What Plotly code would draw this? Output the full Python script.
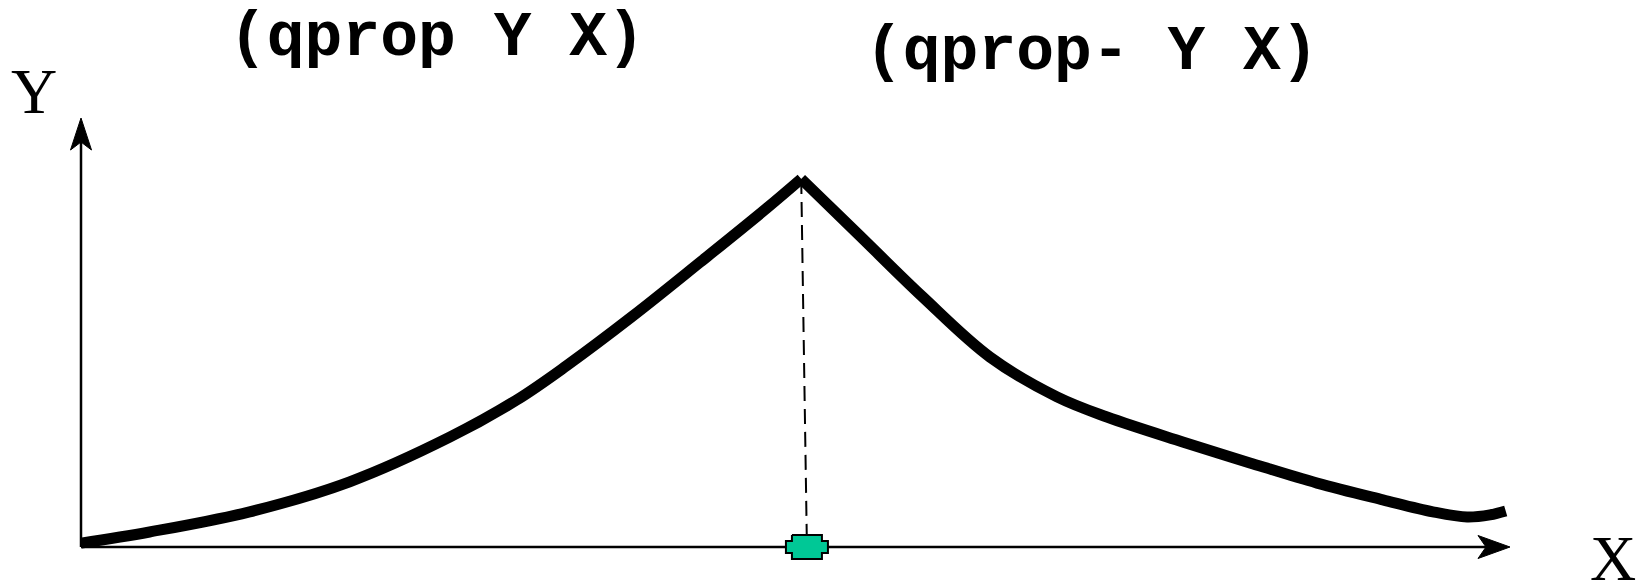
import plotly.graph_objects as go

# ---- data (abstract units) ----
left_x = [0.00, 0.48, 1.18, 1.88, 2.58, 3.05, 3.40, 3.86, 4.33, 4.80, 5.04]
left_y = [0.09, 0.35, 0.82, 1.52, 2.56, 3.43, 4.23, 5.38, 6.63, 7.90, 8.58]
right_x = [5.04, 5.43, 5.89, 6.36, 6.83, 7.18, 7.71, 8.18, 8.65, 9.11, 9.46, 9.70, 9.86, 9.97]
right_y = [8.58, 7.32, 5.83, 4.43, 3.50, 3.03, 2.45, 1.96, 1.49, 1.10, 0.82, 0.70, 0.75, 0.84]
marker_x = 5.08
x_axis_end = 10.0
y_axis_end = 10.0
title_left = "(qprop Y X)"
title_right = "(qprop- Y X)"
x_label = "X"
y_label = "Y"

# ---- geometry / style ----
W, H = 1647, 584
X0, Y0 = 81, 547          # pixel position of the origin
XS, YS = 142.9, 42.9      # pixels per unit


def dx(px):
    return px / XS


def dy(py):
    return py / YS


fig = go.Figure()

# axes lines
AX_W = 2.5
fig.add_trace(go.Scatter(x=[0, x_axis_end - dx(24)], y=[0, 0], mode="lines",
                         line=dict(color="black", width=AX_W), hoverinfo="skip"))
fig.add_trace(go.Scatter(x=[0, 0], y=[0, y_axis_end - dy(24)], mode="lines",
                         line=dict(color="black", width=AX_W), hoverinfo="skip"))

# arrowheads
fig.add_trace(go.Scatter(
    x=[x_axis_end, x_axis_end - dx(32), x_axis_end - dx(24), x_axis_end - dx(32), x_axis_end],
    y=[0, dy(11.5), 0, -dy(11.5), 0], mode="lines", fill="toself", fillcolor="black",
    line=dict(color="black", width=1), hoverinfo="skip"))
fig.add_trace(go.Scatter(
    x=[0, dx(10.5), 0, -dx(10.5), 0],
    y=[y_axis_end, y_axis_end - dy(32), y_axis_end - dy(24), y_axis_end - dy(32), y_axis_end],
    mode="lines", fill="toself", fillcolor="black",
    line=dict(color="black", width=1), hoverinfo="skip"))

# dashed drop line
fig.add_trace(go.Scatter(x=[left_x[-1], marker_x], y=[left_y[-1], 0], mode="lines",
                         line=dict(color="black", width=2, dash="15px,8px"), hoverinfo="skip"))

# curve
for xs, ys in ((left_x, left_y), (right_x, right_y)):
    fig.add_trace(go.Scatter(x=xs, y=ys, mode="lines",
                             line=dict(color="black", width=11, shape="spline", smoothing=1.0),
                             hoverinfo="skip"))

# green marker (notched rectangle)
ox = [-15, 15, 15, 21, 21, 15, 15, -15, -15, -21, -21, -15, -15]
oy = [12, 12, 6, 6, -6, -6, -12, -12, -6, -6, 6, 6, 12]
fig.add_trace(go.Scatter(x=[marker_x + dx(a) for a in ox], y=[dy(b) for b in oy],
                         mode="lines", fill="toself", fillcolor="#00C896",
                         line=dict(color="black", width=2), hoverinfo="skip"))

mono = dict(family="Liberation Mono", size=63, color="black")
serif = dict(family="Liberation Serif", size=64, color="black")
fig.add_annotation(x=437 / W, y=1 - 38 / H, xref="paper", yref="paper", text="<b>%s</b>" % title_left,
                   showarrow=False, font=mono, xanchor="center", yanchor="middle")
fig.add_annotation(x=1092 / W, y=1 - 52 / H, xref="paper", yref="paper", text="<b>%s</b>" % title_right,
                   showarrow=False, font=mono, xanchor="center", yanchor="middle")
fig.add_annotation(x=34 / W, y=1 - 92 / H, xref="paper", yref="paper", text=y_label,
                   showarrow=False, font=serif, xanchor="center", yanchor="middle")
fig.add_annotation(x=1613 / W, y=1 - 558 / H, xref="paper", yref="paper", text=x_label,
                   showarrow=False, font=serif, xanchor="center", yanchor="middle")

fig.update_layout(
    width=W, height=H, margin=dict(l=0, r=0, t=0, b=0),
    paper_bgcolor="white", plot_bgcolor="white", showlegend=False,
    xaxis=dict(visible=False, range=[-X0 / XS, (W - X0) / XS], fixedrange=True),
    yaxis=dict(visible=False, range=[-(H - Y0) / YS, Y0 / YS], fixedrange=True),
)
fig.write_html("out.html", config={"displayModeBar": False},
               post_script="document.body.style.margin='0px';document.body.style.overflow='hidden';")
